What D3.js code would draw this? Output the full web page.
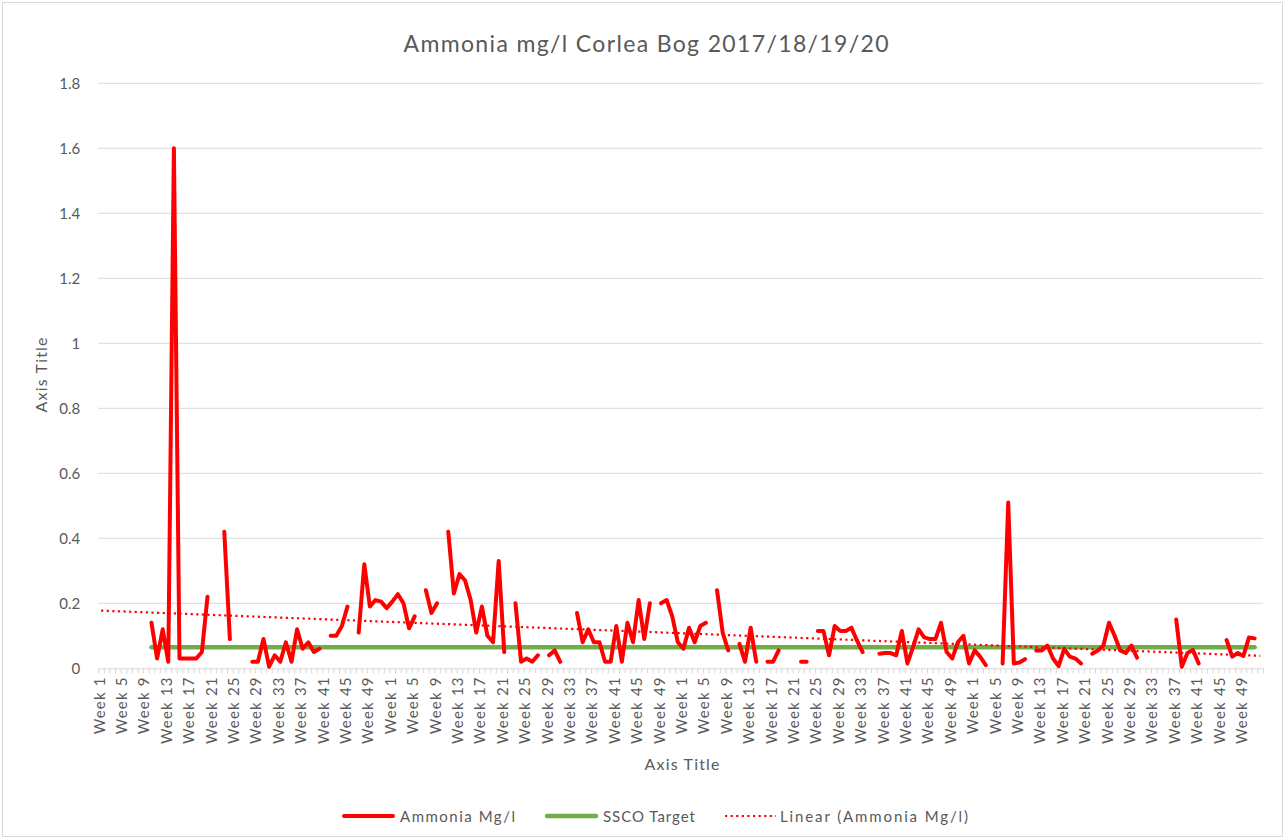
<!DOCTYPE html>
<html>
<head>
<meta charset="utf-8">
<script src="https://cdn.jsdelivr.net/npm/d3@7/dist/d3.min.js"></script>
<style>
  body { margin: 0; background: #fff; }
  svg text { font-family: Lato, "Open Sans", sans-serif; fill: #595959; }
</style>
</head>
<body>
<div id="chart"></div>
<script>
// weekly ammonia readings, mg/l (null = no sample)
var ammonia2017 = [
  null, null, null, null, null, null, null, null, null, 0.14,
  0.03, 0.12, 0.02, 1.6, 0.03, 0.03, 0.03, 0.03, 0.05, 0.22,
  null, null, 0.42, 0.09, null, null, null, 0.02, 0.02, 0.09,
  0.005, 0.04, 0.02, 0.08, 0.02, 0.12, 0.06, 0.08, 0.05, 0.06,
  null, 0.10, 0.10, 0.13, 0.19, null, 0.11, 0.32, 0.19, 0.21,
  0.205, 0.185
];
var ammonia2018 = [
  0.205, 0.228, 0.20, 0.123, 0.16, null, 0.24, 0.17, 0.20, null,
  0.42, 0.23, 0.29, 0.27, 0.21, 0.11, 0.19, 0.10, 0.08, 0.33,
  0.05, null, 0.20, 0.02, 0.03, 0.02, 0.04, null, 0.04, 0.055,
  0.02, null, null, 0.17, 0.08, 0.12, 0.08, 0.08, 0.02, 0.02,
  0.13, 0.02, 0.14, 0.08, 0.21, 0.09, 0.20, null, 0.20, 0.21,
  0.16, 0.08
];
var ammonia2019 = [
  0.06, 0.125, 0.08, 0.13, 0.14, null, 0.24, 0.11, 0.055, null,
  0.075, 0.02, 0.125, 0.02, null, 0.02, 0.02, 0.055, null, null,
  null, 0.02, 0.02, null, 0.115, 0.115, 0.04, 0.13, 0.115, 0.115,
  0.125, 0.085, 0.05, null, null, 0.045, 0.047, 0.047, 0.04, 0.115,
  0.015, 0.065, 0.12, 0.095, 0.09, 0.09, 0.14, 0.05, 0.03, 0.08,
  0.10, 0.015
];
var ammonia2020 = [
  0.055, 0.035, 0.01, null, null, 0.015, 0.51, 0.015, 0.018, 0.028,
  null, 0.055, 0.055, 0.07, 0.03, 0.007, 0.06, 0.036, 0.03, 0.015,
  null, 0.045, 0.055, 0.07, 0.14, 0.10, 0.055, 0.047, 0.07, 0.033,
  null, null, null, null, null, null, 0.15, 0.005, 0.047, 0.056,
  0.015, null, null, null, null, 0.087, 0.036, 0.047, 0.038, 0.095,
  0.092, null
];

var years = [2017, 2018, 2019, 2020];
var weeksPerYear = 52;
var sscoTarget = 0.065;
var sscoWeeks = [9, 206];   // first and last category carrying the target
var yTicks = [0, 0.2, 0.4, 0.6, 0.8, 1, 1.2, 1.4, 1.6, 1.8];

var ammonia = ammonia2017.concat(ammonia2018, ammonia2019, ammonia2020);
var categories = [];
years.forEach(function (yr) {
  for (var w = 1; w <= weeksPerYear; w++) categories.push("Week " + w);
});

var width = 1285, height = 839;
var plotLeft = 98.3, plotRight = 1263, plotBottom = 668.3, plotTop = 83.3;

var svg = d3.select("#chart").append("svg")
    .attr("width", width).attr("height", height);

svg.append("rect")
    .attr("x", 2.5).attr("y", 2.5)
    .attr("width", width - 5).attr("height", height - 5)
    .attr("fill", "#fff").attr("stroke", "#d9d9d9");

var x = d3.scaleBand().domain(d3.range(categories.length)).range([plotLeft, plotRight]).padding(0);
var xb = d3.scaleLinear().domain([0, categories.length]).range([plotLeft, plotRight]);
var y = d3.scaleLinear().domain([0, 1.8]).range([plotBottom, plotTop]);
function cx(i) { return x(i) + x.bandwidth() / 2; }

// gridlines
svg.append("g").selectAll("line")
    .data(yTicks.slice(1))
    .enter().append("line")
    .attr("x1", plotLeft).attr("x2", plotRight)
    .attr("y1", function (d) { return y(d); })
    .attr("y2", function (d) { return y(d); })
    .attr("stroke", "#d9d9d9").attr("stroke-width", 1);

// y axis labels
var yAxis = svg.append("g")
    .attr("transform", "translate(" + plotLeft + ",0)")
    .call(d3.axisLeft(y).tickValues(yTicks).tickSize(0).tickPadding(18)
      .tickFormat(function (d) { return String(+d.toFixed(1)); }));
yAxis.select(".domain").remove();
yAxis.selectAll("text").attr("font-size", 15).attr("fill", "#595959")
    .style("font-family", "Lato, sans-serif");

// x axis line and tick marks at category boundaries
var xAxis = svg.append("g")
    .attr("transform", "translate(0," + plotBottom + ")")
    .call(d3.axisBottom(xb).tickValues(d3.range(categories.length + 1)).tickSize(5).tickFormat(""));
xAxis.select(".domain").attr("stroke", "#d9d9d9");
xAxis.selectAll(".tick line").attr("stroke", "#d9d9d9");

// rotated week labels, every 4th category
svg.append("g").selectAll("text")
    .data(d3.range(0, categories.length, 4))
    .enter().append("text")
    .attr("transform", function (i) { return "translate(" + (cx(i) + 3.5) + "," + (plotBottom + 8) + ") rotate(-90)"; })
    .attr("text-anchor", "end")
    .attr("font-size", 15)
    .attr("letter-spacing", 1.2)
    .text(function (i) { return categories[i]; });

// SSCO target
svg.append("line")
    .attr("x1", cx(sscoWeeks[0])).attr("x2", cx(sscoWeeks[1]))
    .attr("y1", y(sscoTarget)).attr("y2", y(sscoTarget))
    .attr("stroke", "#70ad47").attr("stroke-width", 4.5).attr("stroke-linecap", "round");

// ammonia line, broken where there is no sample
var line = d3.line()
    .defined(function (d) { return d != null; })
    .x(function (d, i) { return cx(i); })
    .y(function (d) { return y(d); });

svg.append("path")
    .datum(ammonia)
    .attr("d", line)
    .attr("fill", "none")
    .attr("stroke", "#ff0000").attr("stroke-width", 4)
    .attr("stroke-linejoin", "round").attr("stroke-linecap", "round");

// linear trend (least squares over category number)
var pts = [];
ammonia.forEach(function (v, i) { if (v != null) pts.push([i + 1, v]); });
var mx = d3.mean(pts, function (p) { return p[0]; });
var my = d3.mean(pts, function (p) { return p[1]; });
var slope = d3.sum(pts, function (p) { return (p[0] - mx) * (p[1] - my); }) /
            d3.sum(pts, function (p) { return (p[0] - mx) * (p[0] - mx); });
var icpt = my - slope * mx;

svg.append("line")
    .attr("x1", cx(0)).attr("x2", cx(categories.length - 1))
    .attr("y1", y(icpt + slope * 1))
    .attr("y2", y(icpt + slope * categories.length))
    .attr("stroke", "#ff0000").attr("stroke-width", 2.2)
    .attr("stroke-dasharray", "2.2 3.4");

// titles
svg.append("text")
    .attr("x", 646).attr("y", 52)
    .attr("text-anchor", "middle")
    .attr("font-size", 23)
    .attr("textLength", 485).attr("lengthAdjust", "spacing")
    .text("Ammonia mg/l Corlea Bog 2017/18/19/20");

svg.append("text")
    .attr("x", 682).attr("y", 770)
    .attr("text-anchor", "middle")
    .attr("font-size", 16)
    .attr("textLength", 75).attr("lengthAdjust", "spacing")
    .text("Axis Title");

svg.append("text")
    .attr("transform", "translate(47,375) rotate(-90)")
    .attr("text-anchor", "middle")
    .attr("font-size", 16)
    .attr("textLength", 75).attr("lengthAdjust", "spacing")
    .text("Axis Title");

// legend
var legend = [
  { name: "Ammonia Mg/l", color: "#ff0000", w: 4, dash: null, x: 342, tw: 115 },
  { name: "SSCO Target", color: "#70ad47", w: 4.5, dash: null, x: 545, tw: 92 },
  { name: "Linear (Ammonia Mg/l)", color: "#ff0000", w: 2.2, dash: "2.2 3.4", x: 725, tw: 188 }
];
var lg = svg.append("g").selectAll("g").data(legend).enter().append("g")
    .attr("transform", function (d) { return "translate(" + d.x + ",816)"; });
lg.append("line")
    .attr("x1", function (d) { return d.dash ? 0 : 2; })
    .attr("x2", 51)
    .attr("stroke", function (d) { return d.color; })
    .attr("stroke-width", function (d) { return d.w; })
    .attr("stroke-linecap", function (d) { return d.dash ? "butt" : "round"; })
    .attr("stroke-dasharray", function (d) { return d.dash; });
lg.append("text")
    .attr("x", function (d) { return d.dash ? 55 : 58; }).attr("y", 5.5)
    .attr("font-size", 15)
    .attr("textLength", function (d) { return d.tw; }).attr("lengthAdjust", "spacing")
    .text(function (d) { return d.name; });
</script>
</body>
</html>
